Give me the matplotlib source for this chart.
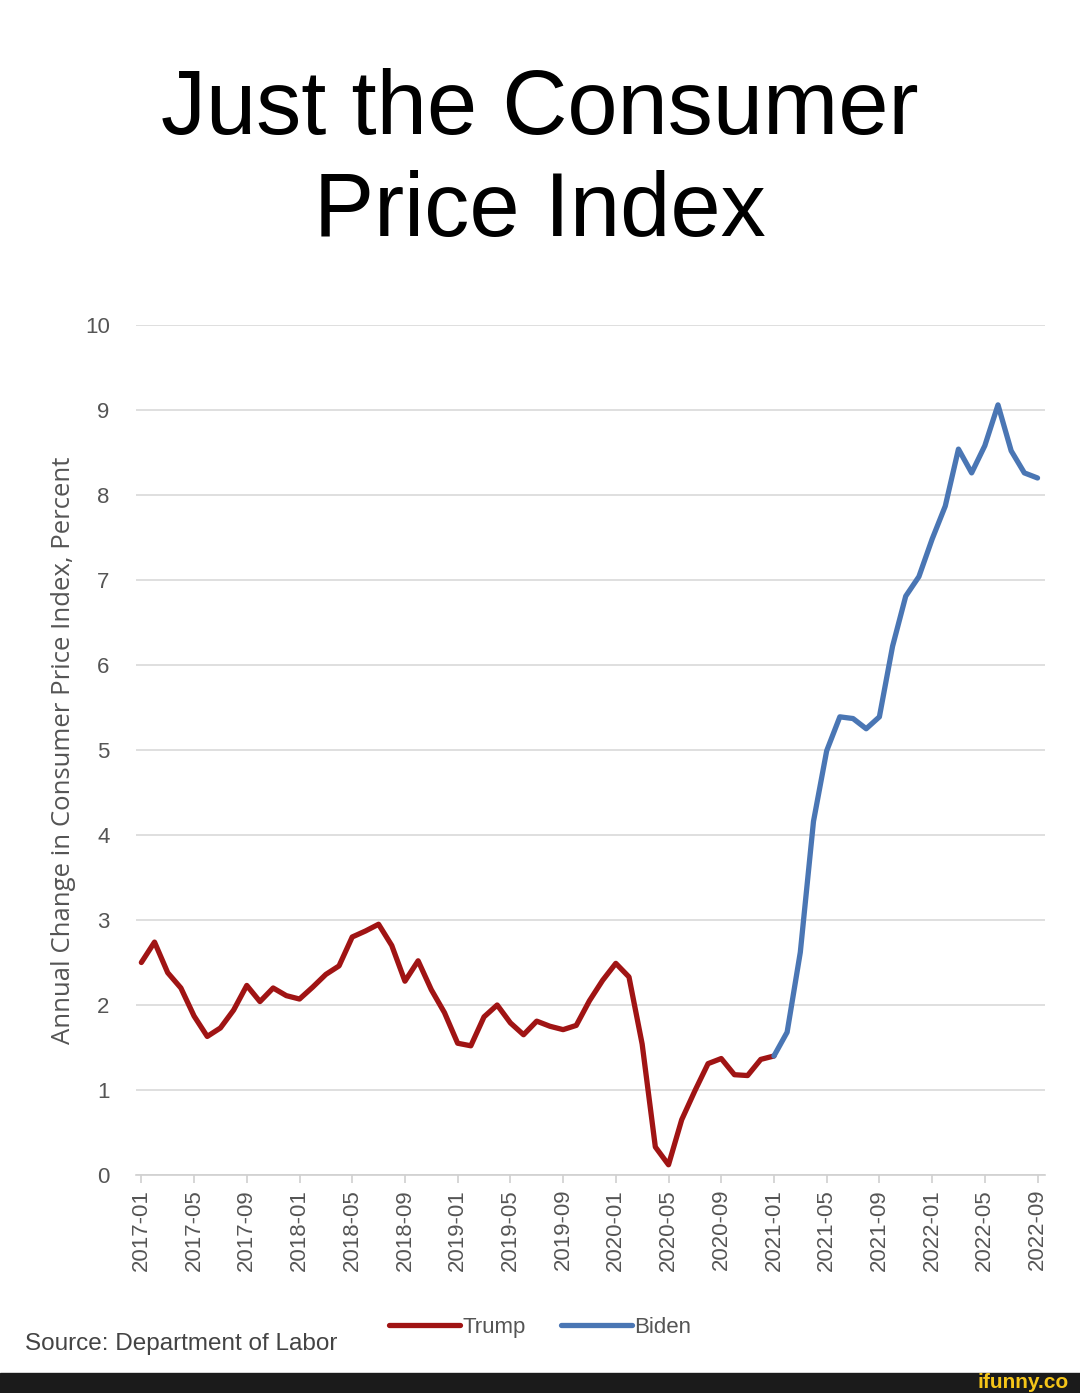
import matplotlib
matplotlib.use("Agg")
import matplotlib.pyplot as plt
from matplotlib import rcParams

rcParams['font.family'] = ['Liberation Sans', 'DejaVu Sans']

# CPI, annual change in percent, monthly 2017-01 .. 2022-09
months = [f"{y}-{m:02d}" for y in range(2017, 2023) for m in range(1, 13)][:69]
trump_cpi = [2.50, 2.74, 2.38, 2.20, 1.87, 1.63, 1.73, 1.94, 2.23, 2.04, 2.20, 2.11,
             2.07, 2.21, 2.36, 2.46, 2.80, 2.87, 2.95, 2.70, 2.28, 2.52, 2.18, 1.91,
             1.55, 1.52, 1.86, 2.00, 1.79, 1.65, 1.81, 1.75, 1.71, 1.76, 2.05, 2.29,
             2.49, 2.33, 1.54, 0.33, 0.12, 0.65, 0.99, 1.31, 1.37, 1.18, 1.17, 1.36,
             1.40]
biden_cpi = [1.40, 1.68, 2.62, 4.16, 4.99, 5.39, 5.37, 5.25, 5.39, 6.22, 6.81, 7.04,
             7.48, 7.87, 8.54, 8.26, 8.58, 9.06, 8.52, 8.26, 8.20]

x_trump = list(range(len(trump_cpi)))
x_biden = list(range(len(trump_cpi) - 1, len(trump_cpi) - 1 + len(biden_cpi)))

red = "#a01414"
blue = "#4a76b4"
grey = "#555555"

fig = plt.figure(figsize=(10.8, 13.93), dpi=100)
ax = fig.add_axes([0.126, 0.1565, 0.842, 0.6102])

ax.plot(x_trump, trump_cpi, color=red, lw=3.8, label="Trump", solid_capstyle="round")
ax.plot(x_biden, biden_cpi, color=blue, lw=3.8, label="Biden", solid_capstyle="round")

ax.set_ylim(0, 10)
ax.set_xlim(-0.4, 68.6)
ax.set_yticks(range(0, 11))
ax.set_xticks(range(0, 69, 4))
ax.set_xticklabels(months[::4], rotation=90)
ax.grid(axis="y", color="#d9d9d9", lw=1.2)
ax.set_axisbelow(True)
for s in ["top", "right", "left"]:
    ax.spines[s].set_visible(False)
ax.spines["bottom"].set_color("#d0d0d0")
ax.spines["bottom"].set_linewidth(1.2)
ax.tick_params(axis="y", length=0, pad=19, labelsize=16, labelcolor=grey)
ax.tick_params(axis="x", length=6, color="#d0d0d0", width=1.2, pad=4,
               labelsize=16, labelcolor=grey)
ax.set_ylabel("Annual Change in Consumer Price Index, Percent", fontsize=18.5,
              color=grey, labelpad=6, family=["Open Sans", "DejaVu Sans"])

fig.text(0.5, 0.884, "Just the Consumer\nPrice Index", ha="center", va="center",
         fontsize=65, linespacing=1.25, color="black")

fig.legend(loc="center", bbox_to_anchor=(0.5, 0.047), ncol=2, frameon=False,
           fontsize=16, labelcolor=grey, handlelength=3.2, handletextpad=0.1,
           columnspacing=1.6)
fig.text(0.023, 0.035, "Source: Department of Labor", fontsize=17.5, color="#444444",
         va="center")

# watermark bar
fig.patches.append(plt.Rectangle((0, 0), 1, 20 / 1393, transform=fig.transFigure,
                                 color="#1b1b1b", zorder=0))
fig.text(0.99, 10 / 1393, "ifunny.co", ha="right", va="center", fontsize=15,
         fontweight="bold", color="#f5c518")

fig.savefig("out.png", dpi=100)
